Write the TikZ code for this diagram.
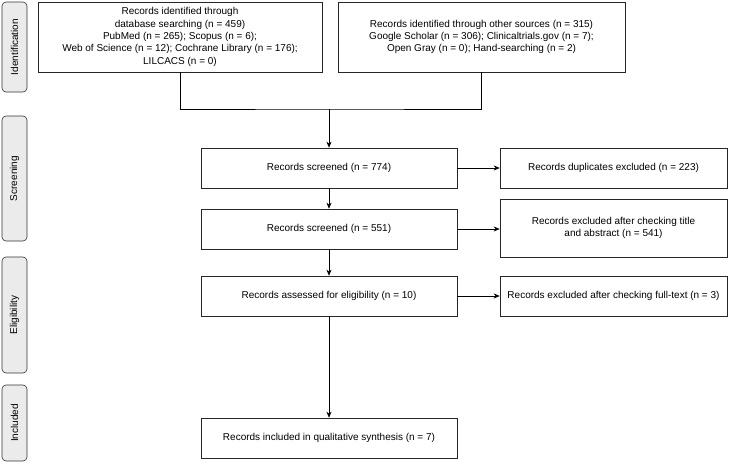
\documentclass[tikz,border=0pt]{standalone}
\usepackage{fontspec}
\setmainfont{Liberation Sans}
\usetikzlibrary{arrows.meta}
\begin{document}
\begin{tikzpicture}[x=1pt,y=-1pt,
  box/.style={draw=black!85,line width=0.6pt,fill=white,inner sep=0pt,font=\fontsize{10}{12.4}\selectfont,align=center},
  stage/.style={draw=black!80,line width=0.6pt,fill=black!8,rounded corners=4pt,font=\fontsize{10}{12}\selectfont},
  arr/.style={-{Stealth[length=6pt,width=5pt]},line width=0.6pt},
  ln/.style={line width=0.6pt}]
\useasboundingbox (0,0) rectangle (750,464);
\newcommand{\bx}[6]{\node[box,minimum width=#4-#2,minimum height=#5-#3] (#1) at ({(#2+#4)/2},{(#3+#5)/2}) {#6};}
\newcommand{\stg}[5]{\node[stage,minimum width=#5-#4,minimum height=25,rotate=90] (#1) at (14.5,{(#4+#5)/2}) {#2};}
\stg{s1}{Identification}{}{2}{92}
\stg{s2}{Screening}{}{116}{241}
\stg{s3}{Eligibility}{}{257}{373}
\stg{s4}{Included}{}{385}{461}
\bx{a}{38}{2}{322}{72}{Records identified through\\database searching (n = 459)\\PubMed (n = 265); Scopus (n = 6);\\Web of Science (n = 12); Cochrane Library (n = 176);\\LILCACS (n = 0)}
\bx{b}{338}{2}{625}{72}{Records identified through other sources (n = 315)\\Google Scholar (n = 306); Clinicaltrials.gov (n = 7);\\Open Gray (n = 0); Hand-searching (n = 2)}
\bx{c1}{201}{148}{457}{188}{Records screened (n = 774)}
\bx{d1}{500}{148}{727}{188}{Records duplicates excluded (n = 223)}
\bx{c2}{201}{209}{457}{249}{Records screened (n = 551)}
\bx{d2}{500}{199}{727}{257}{Records excluded after checking title\\and abstract (n = 541)}
\bx{c3}{201}{276}{457}{316}{Records assessed for eligibility (n = 10)}
\bx{d3}{500}{276}{727}{316}{Records excluded after checking full-text (n = 3)}
\bx{c4}{201}{418}{457}{458}{Records included in qualitative synthesis (n = 7)}
\coordinate (j) at (329,109);
\draw[ln] (a.south) |- (j) -| (b.south);
\draw[arr] (j) -- (c1.north);
\draw[arr] (c1) -- (c2);
\draw[arr] (c2) -- (c3);
\draw[arr] (c3) -- (c4);
\draw[arr] (c1) -- (d1);
\draw[arr] (c2.east) -- (c2.east -| d2.west);
\draw[arr] (c3) -- (d3);
\end{tikzpicture}
\end{document}
